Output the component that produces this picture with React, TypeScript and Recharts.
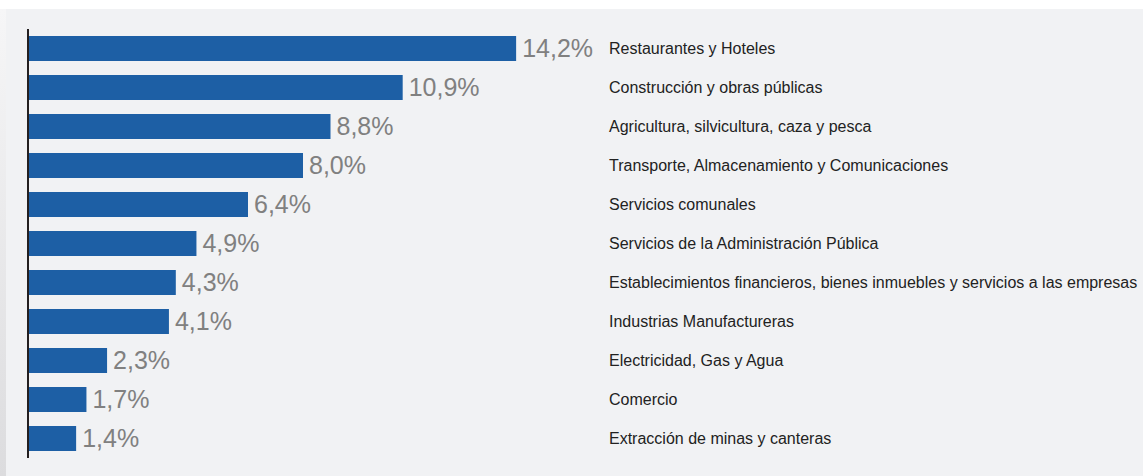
import React from "react";
import { BarChart, Bar, XAxis, YAxis, LabelList, ReferenceLine } from "recharts";

const categories = [
  "Restaurantes y Hoteles",
  "Construcción y obras públicas",
  "Agricultura, silvicultura, caza y pesca",
  "Transporte, Almacenamiento y Comunicaciones",
  "Servicios comunales",
  "Servicios de la Administración Pública",
  "Establecimientos financieros, bienes inmuebles y servicios a las empresas",
  "Industrias Manufactureras",
  "Electricidad, Gas y Agua",
  "Comercio",
  "Extracción de minas y canteras",
];

const values = [14.2, 10.9, 8.8, 8.0, 6.4, 4.9, 4.3, 4.1, 2.3, 1.7, 1.4];

const data = categories.map((name, i) => ({ name, value: values[i] }));

const fmt = (v: number) => v.toFixed(1).replace(".", ",") + "%";

const FONT = "'Liberation Sans', Arial, sans-serif";

export default function App() {
  return (
    <div
      style={{
        position: "absolute",
        left: 0,
        top: 0,
        width: 1143,
        height: 476,
        background: "#ffffff",
        overflow: "hidden",
      }}
    >
      <div
        style={{
          position: "absolute",
          left: 0,
          top: 9,
          width: 6,
          height: 467,
          background: "linear-gradient(to bottom, #f6f6f7, #dcdcde)",
        }}
      />
      <div
        style={{
          position: "absolute",
          left: 6,
          top: 9,
          width: 1137,
          height: 467,
          background: "#f1f2f4",
        }}
      />
      <div style={{ position: "absolute", left: 0, top: 0 }}>
        <BarChart
          width={1143}
          height={476}
          data={data}
          layout="vertical"
          margin={{ top: 29, right: 0, bottom: 18, left: 28 }}
          barSize={25}
        >
          <XAxis type="number" domain={[0, 16]} hide />
          <YAxis
            yAxisId="left"
            type="category"
            dataKey="name"
            orientation="left"
            width={0}
            tick={false}
            tickLine={false}
            axisLine={false}
          />
          <YAxis
            yAxisId="right"
            type="category"
            dataKey="name"
            orientation="right"
            width={565}
            axisLine={false}
            tickLine={false}
            tickSize={0}
            tickMargin={31}
            interval={0}
            tick={{ fill: "#222222", fontSize: 16, fontFamily: FONT, textAnchor: "start" }}
          />
          <Bar
            yAxisId="left"
            dataKey="value"
            fill="#1d5fa5"
            isAnimationActive={false}
          >
            <LabelList
              dataKey="value"
              position="right"
              offset={6}
              formatter={(v: any) => fmt(Number(v))}
              style={{ fill: "#808080", fontSize: 25, fontFamily: FONT }}
            />
          </Bar>
          <ReferenceLine
            yAxisId="left"
            x={0}
            stroke="#231f20"
            strokeWidth={2}
            ifOverflow="visible"
          />
        </BarChart>
      </div>
    </div>
  );
}
